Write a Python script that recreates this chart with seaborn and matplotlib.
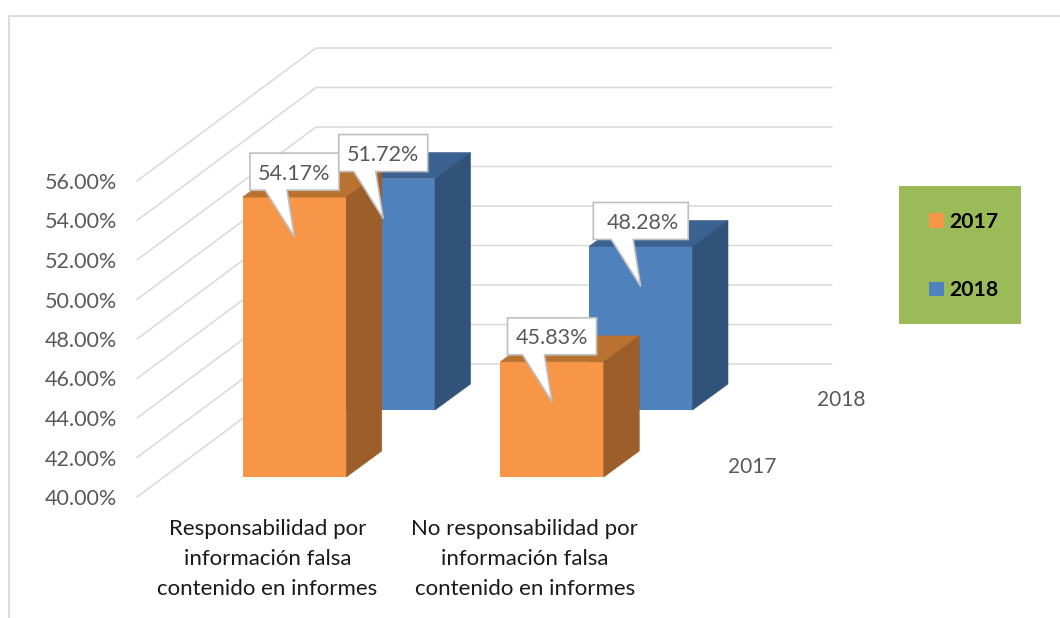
import matplotlib
matplotlib.use("Agg")
import matplotlib.pyplot as plt
import seaborn as sns
from matplotlib.lines import Line2D
from matplotlib.patches import Patch, Polygon, Rectangle
from matplotlib.transforms import IdentityTransform

sns.set_theme(style="white")
plt.rcParams["font.family"] = ["Lato", "DejaVu Sans"]

# datos
categorias = ["Responsabilidad por\ninformación falsa\ncontenido en informes",
              "No responsabilidad por\ninformación falsa\ncontenido en informes"]
valores_2017 = [54.17, 45.83]
valores_2018 = [51.72, 48.28]
series = ["2017", "2018"]
ticks = [40, 42, 44, 46, 48, 50, 52, 54, 56]

W, H = 1060, 618
PX_POR_UNIDAD = 19.75
PX_POR_CATEGORIA = 257.5
GRIS = "#D9D9D9"
TEXTO = "#595959"

fig = plt.figure(figsize=(W / 100, H / 100), dpi=100)

# marco exterior
fig.add_artist(Line2D([9 / W, 9 / W, 1], [0, 1 - 16 / H, 1 - 16 / H], color=GRIS, lw=1.3))


def plano(left, suelo, ancho=515, z=1):
    # cada plano de profundidad es un axes con la misma escala 40-56
    alto = 16 * PX_POR_UNIDAD
    ax = fig.add_axes([left / W, 1 - suelo / H, ancho / W, alto / H], zorder=z)
    ax.patch.set_visible(False)
    return ax


def caras(ax, color_top, color_lado):
    # caras superior y lateral a partir de las barras de seaborn
    dx = 35.5 / PX_POR_CATEGORIA
    dy = 26 / PX_POR_UNIDAD
    for bar in list(ax.patches):
        x0 = bar.get_x()
        x1 = x0 + bar.get_width()
        t = bar.get_height()
        ax.add_patch(Polygon([(x0, t), (x1, t), (x1 + dx, t + dy), (x0 + dx, t + dy)],
                             fc=color_top, ec=color_top, lw=0.4, clip_on=False))
        ax.add_patch(Polygon([(x1, 40), (x1, t), (x1 + dx, t + dy), (x1 + dx, 40 + dy)],
                             fc=color_lado, ec=color_lado, lw=0.4, clip_on=False))


def globo(ax_dato, ax_dibujo, x, valor, medio=44.5, dx_texto=0):
    # etiqueta con forma de globo, la punta cae 40 px bajo el centro de la barra
    cx, cy = ax_dato.transData.transform((x, valor))
    puntos = [(-medio, 7), (-29.5, 7), (0, -40), (-7.5, 7), (medio, 7), (medio, 44), (-medio, 44)]
    puntos = [(cx + a, cy + b) for a, b in puntos]
    ax_dibujo.add_patch(Polygon(puntos, closed=True, fc="white", ec="#BFBFBF", lw=1.2,
                                transform=IdentityTransform(), clip_on=False, zorder=5))
    ax_dibujo.text(cx + dx_texto, cy + 23.5, f"{valor:.2f}%", transform=IdentityTransform(), ha="center",
                   va="center", color=TEXTO, fontsize=15.5, zorder=6)


# pared del fondo y rejilla diagonal
ax_pared = plano(316, 364, ancho=516, z=1)
ax_pared.set_xlim(0, 1)
ax_pared.set_ylim(40, 56)
ax_pared.axis("off")
for t in ticks:
    ax_pared.plot([-179 / 516, 0, 1], [t - 133 / PX_POR_UNIDAD, t, t], color=GRIS, lw=1.1, clip_on=False)

# plano delantero: solo ejes
ax_ejes = plano(138.5, 497, z=2)
sns.barplot(x=categorias, y=[0, 0], ax=ax_ejes, color="white")
ax_ejes.set_xlim(-0.5, 1.5)
ax_ejes.set_ylim(40, 56)
ax_ejes.set_yticks(ticks)
ax_ejes.set_yticklabels([f"{t:.2f}%" for t in ticks], color=TEXTO, fontsize=15.5)
ax_ejes.tick_params(axis="y", length=0, pad=15.5)
ax_ejes.tick_params(axis="x", length=0, pad=16, labelsize=16, labelcolor="#1A1A1A")
for lab in ax_ejes.get_xticklabels():
    lab.set_linespacing(1.63)
sns.despine(ax=ax_ejes, left=True, bottom=True)

# fila 2018 (detras)
ax_2018 = plano(254.5, 410, z=3)
sns.barplot(x=[0, 1], y=valores_2018, ax=ax_2018, color="#4F81BD", saturation=1, width=0.402, linewidth=0)
ax_2018.set_xlim(-0.5, 1.5)
ax_2018.set_ylim(40, 56)
caras(ax_2018, "#3C6291", "#315379")
ax_2018.axis("off")

# fila 2017 (delante)
ax_2017 = plano(165.75, 477, z=4)
sns.barplot(x=[0, 1], y=valores_2017, ax=ax_2017, color="#F79646", saturation=1, width=0.402, linewidth=0)
ax_2017.set_xlim(-0.5, 1.5)
ax_2017.set_ylim(40, 56)
caras(ax_2017, "#BA7231", "#9C5F2B")
ax_2017.axis("off")

# nombres de la serie en el eje de profundidad
for ax, nombre in zip([ax_2017, ax_2018], series):
    ax.text(1.777, 40.5, nombre, ha="center", va="center", color=TEXTO, fontsize=15, clip_on=False)

# globos: los de 2018 tambien van en el axes de arriba para tapar las barras naranjas
fig.canvas.draw()
for i, v in enumerate(valores_2017):
    globo(ax_2017, ax_2017, i, v)
globo(ax_2018, ax_2017, 0, valores_2018[0])
globo(ax_2018, ax_2017, 1, valores_2018[1], medio=47.5, dx_texto=2)

# leyenda
fig.add_artist(Rectangle((899 / W, 1 - 324 / H), 122 / W, 138 / H, fc="#9BBB59", ec="none",
                         transform=fig.transFigure, zorder=6))
handles = [Patch(fc="#F79646", ec="none", label=series[0]), Patch(fc="#4F81BD", ec="none", label=series[1])]
leg = fig.legend(handles=handles, loc="center", bbox_to_anchor=(964 / W, 1 - 256 / H), frameon=False,
                 handlelength=0.7, handleheight=0.7, handletextpad=0.25,
                 labelspacing=2.3, prop={"weight": "bold", "size": 15.2})
leg.set_zorder(7)
for txt in leg.get_texts():
    txt.set_color("black")

fig.savefig("out.png", dpi=100)
